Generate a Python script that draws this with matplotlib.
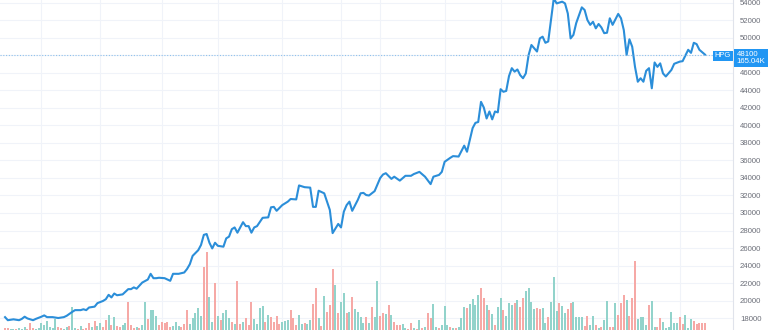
import matplotlib
matplotlib.use("Agg")
import matplotlib.pyplot as plt
import numpy as np

# closing price, keyed by session index
price_day = [0, 1, 3, 5, 6, 7, 8, 10, 11, 13,
             14, 15, 17, 19, 21, 22, 24, 25, 27, 28,
             29, 30, 32, 33, 35, 36, 37, 38, 39, 40,
             42, 43, 44, 45, 46, 47, 49, 51, 52, 53,
             54, 55, 57, 59, 60, 62, 64, 65, 66, 67,
             69, 70, 71, 72, 73, 74, 75, 76, 78, 79,
             80, 81, 82, 83, 85, 86, 87, 88, 89, 90,
             92, 94, 95, 96, 97, 99, 101, 102, 104, 105,
             107, 109, 110, 111, 112, 114, 116, 117, 119, 120,
             121, 122, 123, 124, 126, 127, 128, 129, 130, 132,
             134, 135, 136, 138, 139, 141, 143, 145, 146, 148,
             150, 152, 153, 155, 156, 157, 159, 160, 162, 164,
             165, 167, 168, 169, 170, 171, 172, 173, 174, 175,
             176, 177, 178, 179, 180, 181, 182, 183, 184, 185,
             186, 187, 188, 190, 191, 192, 193, 194, 195, 196,
             197, 199, 200, 201, 202, 203, 204, 206, 207, 208,
             209, 210, 211, 212, 213, 214, 215, 216, 217, 219,
             220, 221, 222, 223, 224, 225, 226, 227, 228, 229,
             230, 231, 232, 233, 234, 235, 236, 238, 239, 241,
             242, 244, 245, 246, 247, 248, 250]
price = [18100, 17750, 17850, 17750, 17900, 18150, 17950, 17750, 17900, 18150,
         18300, 18100, 18100, 18000, 18100, 18250, 18700, 18900, 18900, 19000,
         18900, 19200, 19300, 19700, 19950, 20150, 20650, 20350, 20800, 20600,
         20700, 21000, 21300, 21300, 21500, 21350, 22050, 22400, 23050, 22550,
         22550, 22600, 22550, 22250, 23050, 23050, 23200, 23600, 24150, 25100,
         25750, 26350, 27500, 27600, 26600, 25950, 26600, 26250, 26150, 27100,
         27300, 28150, 28350, 27750, 28950, 28500, 28500, 27750, 28350, 28500,
         29450, 29500, 30650, 30700, 30250, 30900, 31300, 31600, 31550, 33150,
         32950, 32900, 30700, 30700, 32550, 32250, 30350, 27700, 28750, 28350,
         30150, 30900, 31300, 30250, 31500, 32250, 32300, 32050, 32000, 32500,
         34000, 34400, 34550, 33900, 34150, 33700, 34250, 34250, 34450, 34700,
         34150, 33300, 34150, 34350, 34700, 35850, 36300, 36500, 36450, 37700,
         37000, 39700, 40300, 40400, 42700, 42050, 40800, 41600, 40700, 41600,
         41500, 44150, 43850, 43950, 45650, 46550, 46150, 46400, 45750, 45400,
         45950, 48050, 49200, 48450, 49950, 50150, 49450, 49600, 52050, 54550,
         53950, 54150, 53950, 52800, 49950, 50350, 51700, 53500, 53200, 52050,
         51500, 51850, 51100, 51600, 51200, 50550, 50600, 52250, 51500, 52750,
         52250, 50900, 48050, 49850, 49000, 46700, 45000, 45400, 45000, 46250,
         46550, 44250, 47200, 46700, 47100, 45950, 45600, 46350, 47050, 47300,
         47350, 48650, 48300, 49450, 49300, 48650, 48100]

# volume (million shares) and up/down flag per session
volume = [2, 2, 1, 1, 1, 2, 1, 3, 1, 7,
          2, 1, 2, 7, 5, 9, 3, 2, 11, 3,
          2, 1, 3, 4, 23, 2, 1, 4, 1, 2,
          7, 3, 9, 4, 7, 3, 10, 15, 5, 13,
          4, 3, 5, 7, 28, 5, 2, 3, 2, 5,
          28, 11, 20, 20, 14, 5, 8, 7, 8, 3,
          4, 8, 4, 3, 6, 20, 6, 12, 17, 22,
          14, 63, 78, 33, 8, 47, 14, 10, 17, 20,
          12, 8, 6, 49, 6, 8, 12, 5, 28, 11,
          6, 22, 24, 8, 15, 13, 8, 14, 6, 8,
          9, 10, 20, 12, 5, 15, 6, 7, 6, 10,
          26, 42, 12, 4, 34, 18, 25, 61, 45, 17,
          28, 37, 17, 18, 33, 21, 18, 13, 7, 13,
          7, 23, 13, 49, 14, 17, 16, 25, 15, 8,
          5, 5, 6, 2, 1, 7, 2, 1, 10, 2,
          3, 17, 12, 26, 3, 2, 5, 24, 5, 3,
          2, 2, 3, 12, 23, 22, 26, 31, 25, 35,
          42, 32, 25, 20, 16, 5, 23, 32, 20, 14,
          27, 25, 27, 30, 23, 32, 39, 42, 28, 21,
          22, 21, 22, 7, 13, 28, 53, 19, 27, 24,
          17, 21, 27, 28, 13, 13, 13, 4, 14, 5,
          14, 5, 2, 3, 10, 29, 3, 3, 27, 15,
          27, 35, 30, 14, 32, 69, 11, 13, 13, 5,
          25, 29, 3, 3, 12, 8, 2, 3, 18, 7,
          7, 13, 6, 15, 2, 11, 9, 6, 7, 7,
          7]
direction = ("rrggrgggrr" "rggggggggr" "rggrggrgrr" "rgrggrrgrg" "rrggrrrgrg"
             "grgggrrrrr" "gggrrrgggg" "grrggrgrgg" "grgrrgrrrg" "gggrgrrrrg"
             "ggrrrggrgg" "rrgrgrrrgr" "ggrgrggggr" "grggrrgrgr" "rrggrrgrgr"
             "grrggrgggr" "grgggrgggg" "rrgrgrggrg" "ggrgrrgggg" "rrggrgggrg"
             "grrggggrrg" "grgrggrrgr" "rrgrrrgggg" "rggrrggggg" "grrgggrrrr" "r")

month_starts = [13, 34, 56, 76, 99, 120, 134, 157, 177, 197, 219, 241]
price_ticks = list(range(18000, 54001, 2000))
last_price = 48100
last_label = "165.04K"
ticker = "HPG"

up_col = "#92d3cb"
down_col = "#f6a9a6"
line_col = "#2b8ed9"
grid_col = "#f0f3f9"
tag_col = "#2196f3"

fig = plt.figure(figsize=(7.7, 3.3), dpi=100)
rect = [0, 0, 733 / 770, 1]

# grid lives on a background axes so it sits behind the volume bars
axg = fig.add_axes(rect, zorder=0)
axv = fig.add_axes(rect, zorder=1)
ax = fig.add_axes(rect, zorder=2)
axv.patch.set_visible(False)
ax.patch.set_visible(False)

axg.set_xlim(-1.8, 260)
axg.set_ylim(16630, 54340)
axg.set_xticks(month_starts)
axg.set_yticks(price_ticks)
axg.grid(True, color=grid_col, lw=0.8)
axg.tick_params(length=0, labelbottom=False, labelleft=False)
for s in axg.spines.values():
    s.set_visible(False)

days = np.arange(len(volume))
colors = [up_col if d == "g" else down_col for d in direction]
axv.bar(days, volume, width=0.72, color=colors, linewidth=0)
axv.set_xlim(-1.8, 260)
axv.set_ylim(0, 330)
axv.axis("off")

ax.plot(price_day, price, color=line_col, lw=1.5, solid_joinstyle="round")
ax.axhline(last_price, color="#8fc1ec", lw=0.8, ls=(0, (1, 1.5)))

ax.set_xlim(-1.8, 260)
ax.set_ylim(16630, 54340)
ax.set_yticks(price_ticks)
# the 48000 label is hidden behind the last-price tag
ax.set_yticklabels(["" if abs(t - last_price) < 1000 else str(t) for t in price_ticks])
ax.set_xticks([])
ax.yaxis.tick_right()
ax.tick_params(axis="y", length=0, pad=5, labelsize=5.6, labelcolor="#6b6e78")
for lab in ax.get_yticklabels():
    lab.set_fontfamily("Liberation Sans")
for s in ["top", "left", "bottom"]:
    ax.spines[s].set_visible(False)
ax.spines["right"].set_color("#e0e3eb")
ax.spines["right"].set_linewidth(0.8)

# last price tags
ax.annotate(ticker, xy=(0.997, last_price), xycoords=ax.get_yaxis_transform(),
            xytext=(0, -1), textcoords="offset points",
            ha="right", va="center", fontsize=5.4, color="white",
            family="Liberation Sans",
            bbox=dict(boxstyle="square,pad=0.25", fc=tag_col, ec="none"))
ax.annotate(f"{last_price}\n{last_label}", xy=(1.0, last_price),
            xycoords=ax.get_yaxis_transform(), xytext=(2.5, 2.5),
            textcoords="offset points", ha="left", va="top", fontsize=5.6,
            color="white", family="Liberation Sans", linespacing=1.0,
            annotation_clip=False,
            bbox=dict(boxstyle="square,pad=0.3", fc=tag_col, ec="none"))

fig.savefig("out.png", dpi=100)
